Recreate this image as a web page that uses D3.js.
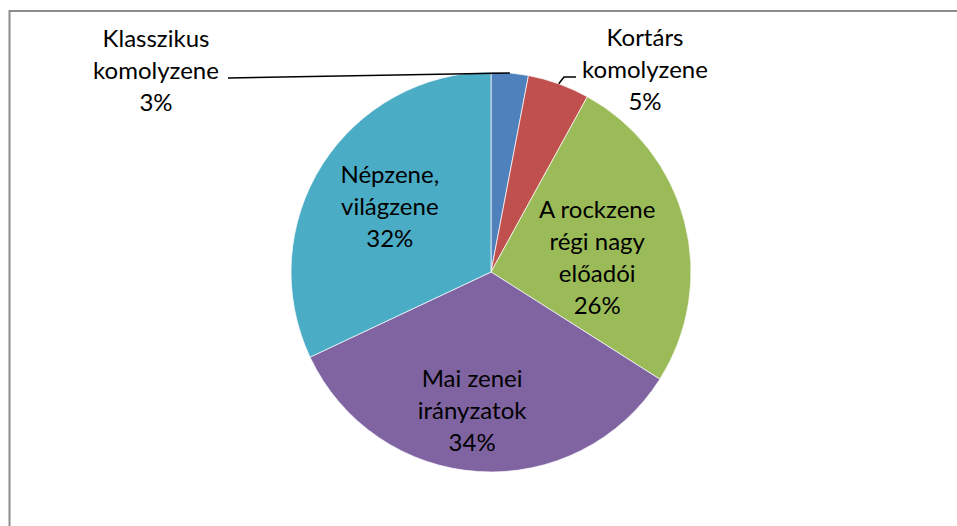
<!DOCTYPE html>
<html>
<head>
<meta charset="utf-8">
<script src="https://cdn.jsdelivr.net/npm/d3@7"></script>
<style>
  body { margin: 0; background: #fff; }
  text { font-family: Lato, "Open Sans", sans-serif; fill: #000; }
</style>
</head>
<body>
<script>
// Chart data
var categories = [
  'Klasszikus komolyzene',
  'Kortárs komolyzene',
  'A rockzene régi nagy előadói',
  'Mai zenei irányzatok',
  'Népzene, világzene'
];
var values = [3, 5, 26, 34, 32];
var labelLines = [
  ['Klasszikus', 'komolyzene', '3%'],
  ['Kortárs', 'komolyzene', '5%'],
  ['A rockzene', 'régi nagy', 'előadói', '26%'],
  ['Mai zenei', 'irányzatok', '34%'],
  ['Népzene,', 'világzene', '32%']
];
var colors = ['#4f81bd', '#c0504d', '#9bbb59', '#8064a2', '#4bacc6'];

var w = 957, h = 526;
var cx = 491, cy = 272, r = 200;
var lineH = 32;
var fontSize = 24;

var svg = d3.select('body').append('svg')
  .attr('width', w)
  .attr('height', h);

// chart frame (runs off the right and bottom edges)
svg.append('rect')
  .attr('x', 9.5).attr('y', 11)
  .attr('width', 1000).attr('height', 1000)
  .attr('fill', 'none')
  .attr('stroke', '#8c8c8c')
  .attr('stroke-width', 2);

var pie = d3.pie().sort(null).value(function(d) { return d; });
var arcs = pie(values);
var arc = d3.arc().innerRadius(0).outerRadius(r);

var g = svg.append('g').attr('transform', 'translate(' + cx + ',' + cy + ')');

g.selectAll('path.slice')
  .data(arcs)
  .enter()
  .append('path')
  .attr('class', 'slice')
  .attr('d', arc)
  .attr('fill', function(d, i) { return colors[i]; })
  .attr('stroke', '#fff')
  .attr('stroke-opacity', 0.7)
  .attr('stroke-width', 1);

// point on the rim at mid angle
function rimPoint(d) {
  var a = (d.startAngle + d.endAngle) / 2;
  return [Math.sin(a) * r, -Math.cos(a) * r];
}

// inside labels: polar placement (degrees from 12 o'clock, fraction of r),
// matching Excel's best-fit spots
var insidePlace = {
  2: [83, 0.535],
  3: [187.7, 0.705],
  4: [302.5, 0.6]
};

// outside labels for the two small slices, placed like in the original
var outside = {
  0: { pos: [-335, -200], leader: function(p) { return [p, [-263, -194]]; } },
  1: { pos: [154, -201], leader: function(p) { return [p, [73, -195], [85, -195]]; } }
};

arcs.forEach(function(d, i) {
  var lines = labelLines[i];
  var pos;
  if (outside[i]) {
    pos = outside[i].pos;
    g.append('path')
      .attr('d', d3.line()(outside[i].leader(rimPoint(d))))
      .attr('fill', 'none')
      .attr('stroke', '#000')
      .attr('stroke-width', 1.5);
  } else {
    var a = insidePlace[i][0] * Math.PI / 180, rho = insidePlace[i][1] * r;
    pos = [Math.sin(a) * rho, -Math.cos(a) * rho];
  }
  var t = g.append('text')
    .attr('text-anchor', 'middle')
    .attr('font-size', fontSize + 'px');
  var y0 = pos[1] - (lines.length - 1) * lineH / 2 + 7;
  lines.forEach(function(s, j) {
    t.append('tspan')
      .attr('x', pos[0])
      .attr('y', y0 + j * lineH)
      .text(s);
  });
});
</script>
</body>
</html>
